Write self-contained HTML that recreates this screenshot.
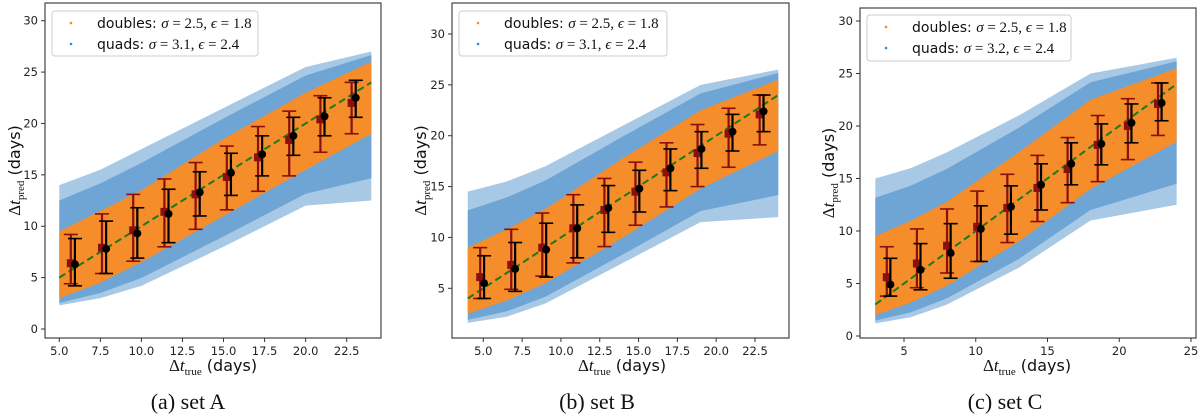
<!DOCTYPE html>
<html><head><meta charset="utf-8">
<style>
body{margin:0;background:#fff;width:1200px;height:416px;overflow:hidden}
svg{display:block}
text{font-family:"DejaVu Sans","Liberation Sans",sans-serif}
.cap{font-family:"Liberation Serif","DejaVu Serif",serif;font-size:22px}
</style></head>
<body>
<svg id="fig" width="1200" height="416"></svg>
<script>
// ---- data: set A ----
const aCatX = [5.7,7.6,9.5,11.4,13.3,15.2,17.1,19.0,20.9,22.8];
const aDblMean = [6.4,7.9,9.6,11.4,13.1,14.8,16.7,18.4,20.4,22.0];
const aDblLo = [4.4,5.4,6.6,8.0,9.7,11.6,13.4,14.9,17.2,19.0];
const aDblHi = [9.2,11.2,13.1,14.6,16.2,17.8,19.7,21.2,22.7,24.0];
const aQuadMean = [6.3,7.8,9.3,11.2,13.3,15.2,17.0,18.8,20.7,22.5];
const aQuadLo = [4.2,5.4,6.9,8.4,11.0,13.0,14.9,16.9,18.8,20.6];
const aQuadHi = [8.8,10.5,11.8,13.6,15.3,17.1,18.8,20.6,22.5,24.2];
const aBandX = [5,7.5,10,15,20,24];
const aBlueLo = [2.3,3.0,4.2,8.0,12.0,12.5];
const aBlueHi = [14.0,15.5,17.5,21.5,25.5,27.0];
const aOrgLo = [3.0,4.5,6.5,11.0,15.5,19.0];
const aOrgHi = [9.5,11.5,13.5,18.5,23.0,26.0];
const aXTicks = [5,7.5,10,12.5,15,17.5,20,22.5];
const aXTickLabels = ["5.0","7.5","10.0","12.5","15.0","17.5","20.0","22.5"];
const aYTicks = [0,5,10,15,20,25,30];
// ---- data: set B ----
const bCatX = [4.8,6.8,8.8,10.8,12.8,14.8,16.8,18.8,20.8,22.8];
const bDblMean = [6.1,7.3,9.0,10.9,12.7,14.5,16.4,18.3,20.2,22.1];
const bDblLo = [4.0,4.9,6.2,7.5,9.1,11.2,13.0,15.0,16.9,19.1];
const bDblHi = [9.0,10.8,12.4,14.2,15.8,17.4,19.3,21.1,22.7,24.0];
const bQuadMean = [5.5,6.9,8.8,10.9,12.9,14.8,16.8,18.7,20.4,22.4];
const bQuadLo = [4.0,4.7,6.1,8.0,10.5,12.5,14.6,16.8,18.5,20.4];
const bQuadHi = [8.2,9.5,11.4,13.2,15.1,16.6,18.7,20.4,22.1,24.0];
const bBandX = [4,6.5,9,14,19,24];
const bBlueLo = [1.6,2.2,3.5,7.5,11.5,12.0];
const bBlueHi = [14.5,15.5,17.0,21.0,25.0,26.5];
const bOrgLo = [2.5,3.8,5.5,10.0,14.8,18.5];
const bOrgHi = [9.0,10.8,12.8,17.8,22.5,25.5];
const bXTicks = [5,7.5,10,12.5,15,17.5,20,22.5];
const bXTickLabels = ["5.0","7.5","10.0","12.5","15.0","17.5","20.0","22.5"];
const bYTicks = [5,10,15,20,25,30];
// ---- data: set C ----
const cCatX = [3.8,5.9,8.0,10.1,12.2,14.3,16.4,18.5,20.6,22.7];
const cDblMean = [5.6,6.9,8.6,10.4,12.2,14.1,15.9,18.2,20.0,22.1];
const cDblLo = [3.8,4.6,6.0,7.1,8.9,10.9,12.7,14.7,16.8,19.1];
const cDblHi = [8.5,10.2,12.1,13.8,15.4,17.2,18.9,21.0,22.6,24.1];
const cQuadMean = [4.9,6.3,7.9,10.2,12.3,14.4,16.4,18.3,20.3,22.2];
const cQuadLo = [3.8,4.4,5.5,7.1,9.7,12.0,14.4,16.3,18.4,20.5];
const cQuadHi = [7.4,8.8,10.7,12.4,14.3,16.4,18.4,20.2,22.1,24.1];
const cBandX = [3,5.5,8,13,18,24];
const cBlueLo = [1.2,1.8,3.0,6.5,11.0,12.5];
const cBlueHi = [15.0,16.0,17.5,21.0,25.0,26.5];
const cOrgLo = [2.0,3.2,4.8,9.0,14.0,18.5];
const cOrgHi = [9.5,11.0,12.8,17.5,22.5,25.5];
const cXTicks = [5,10,15,20,25];
const cXTickLabels = ["5","10","15","20","25"];
const cYTicks = [0,5,10,15,20,25,30];

const NS = "http://www.w3.org/2000/svg";
const svg = document.getElementById('fig');
function mk(tag, attrs, parent, txt){
  const e = document.createElementNS(NS, tag);
  for (const k in attrs) e.setAttribute(k, attrs[k]);
  if (txt !== undefined) e.textContent = txt;
  (parent||svg).appendChild(e);
  return e;
}
const panels = [
 {key:'a', box:[45,3,381,338], x0:5,px0:59.3,x1:22.5,px1:346.7, y0:0,py0:329,y1:30,py1:20.7, xmin:5,
  catX:aCatX,dm:aDblMean,dl:aDblLo,dh:aDblHi,qm:aQuadMean,ql:aQuadLo,qh:aQuadHi,
  bx:aBandX,bl:aBlueLo,bh:aBlueHi,ol:aOrgLo,oh:aOrgHi,xt:aXTicks,xtl:aXTickLabels,yt:aYTicks,
  leg:[52,11,206,45], q:"3.1", ylab:14, xlab:213, cap:188, capT:"(a) set A"},
 {key:'b', box:[452,3,789,338], x0:5,px0:483.3,x1:22.5,px1:755, y0:5,py0:288.3,y1:30,py1:34, xmin:4,
  catX:bCatX,dm:bDblMean,dl:bDblLo,dh:bDblHi,qm:bQuadMean,ql:bQuadLo,qh:bQuadHi,
  bx:bBandX,bl:bBlueLo,bh:bBlueHi,ol:bOrgLo,oh:bOrgHi,xt:bXTicks,xtl:bXTickLabels,yt:bYTicks,
  leg:[459,11,208,45], q:"3.1", ylab:420, xlab:622, cap:597, capT:"(b) set B"},
 {key:'c', box:[860,8,1196,338], x0:5,px0:904,x1:25,px1:1191, y0:0,py0:336,y1:30,py1:21, xmin:3,
  catX:cCatX,dm:cDblMean,dl:cDblLo,dh:cDblHi,qm:cQuadMean,ql:cQuadLo,qh:cQuadHi,
  bx:cBandX,bl:cBlueLo,bh:cBlueHi,ol:cOrgLo,oh:cOrgHi,xt:cXTicks,xtl:cXTickLabels,yt:cYTicks,
  leg:[867,15,204,46], q:"3.2", ylab:828, xlab:1027, cap:1005, capT:"(c) set C"}
];
panels.forEach(p=>{
  const X = v => p.px0 + (v-p.x0)*(p.px1-p.px0)/(p.x1-p.x0);
  const Y = v => p.py0 + (v-p.y0)*(p.py1-p.py0)/(p.y1-p.y0);
  const g = mk('g',{});
  
  
  const [L,T,R,B] = p.box;
  const cid = 'clip'+p.key;
  const cp = mk('clipPath',{id:cid},g); mk('rect',{x:L,y:T,width:R-L,height:B-T},cp);
  const plot = mk('g',{'clip-path':'url(#'+cid+')'},g);
  function band(lo,hi,fill,op,name){
    let pts=[];
    p.bx.forEach((v,i)=>pts.push(X(v)+','+Y(hi[i])));
    for(let i=p.bx.length-1;i>=0;i--) pts.push(X(p.bx[i])+','+Y(lo[i]));
    const e = mk('polygon',{points:pts.join(' '),fill:fill,'fill-opacity':op},plot);
    
    
  }
  band(p.bl,p.bh,'#a8c9e6',1,'quads-scatter-cloud');
  band(p.bl.map((v,i)=>(v*2+p.ol[i])/3), p.bh.map((v,i)=>(v*2+p.oh[i])/3),'#6fa5d4',1,'quads-scatter-core');
  band(p.ol,p.oh,'#f48d2a',1,'doubles-scatter-cloud');
  const ln = mk('line',{x1:X(p.xmin),y1:Y(p.xmin),x2:X(24),y2:Y(24),stroke:'#1a7a1a','stroke-width':2,'stroke-dasharray':'7,4'},plot);
  
  
  function errs(xs,dx,m,lo,hi,col,sq,name){
    xs.forEach((xv,i)=>{
      const eg = mk('g',{},plot);
      
      
      const x = X(xv+dx);
      mk('line',{x1:x,x2:x,y1:Y(lo[i]),y2:Y(hi[i]),stroke:col,'stroke-width':2.2},eg);
      mk('line',{x1:x-7,x2:x+7,y1:Y(lo[i]),y2:Y(lo[i]),stroke:col,'stroke-width':1.6},eg);
      mk('line',{x1:x-7,x2:x+7,y1:Y(hi[i]),y2:Y(hi[i]),stroke:col,'stroke-width':1.6},eg);
      if(sq) mk('rect',{x:x-4,y:Y(m[i])-4,width:8,height:8,fill:col},eg);
      else mk('circle',{cx:x,cy:Y(m[i]),r:4,fill:col},eg);
    });
  }
  errs(p.catX,0,p.dm,p.dl,p.dh,'#8b0f0f',true,'doubles-errorbar');
  errs(p.catX,0.25,p.qm,p.ql,p.qh,'#000',false,'quads-errorbar');
  const fr = mk('rect',{x:L,y:T,width:R-L,height:B-T,fill:'none',stroke:'#444','stroke-width':1.2},g);
  
  
  p.xt.forEach((v,i)=>{
    const x=X(v);
    mk('line',{x1:x,x2:x,y1:B,y2:B+4,stroke:'#333'},g);
    const t=mk('text',{x:x,y:B+17,'font-size':11.5,'text-anchor':'middle',fill:'#222'},g,p.xtl[i]);
    
    
  });
  p.yt.forEach(v=>{
    const y=Y(v);
    mk('line',{x1:L-4,x2:L,y1:y,y2:y,stroke:'#333'},g);
    const t=mk('text',{x:L-7,y:y+4,'font-size':11.5,'text-anchor':'end',fill:'#222'},g,String(v));
    
    
  });
  const [lx,ly,lw,lh]=p.leg;
  const lg = mk('g',{},g);
  
  
  mk('rect',{x:lx,y:ly,width:lw,height:lh,rx:3,fill:'#fff','fill-opacity':0.85,stroke:'#ccc'},lg);
  mk('circle',{cx:lx+19,cy:ly+12,r:1.3,fill:'#f58b22'},lg);
  mk('circle',{cx:lx+19,cy:ly+33,r:1.3,fill:'#3a86c4'},lg);
  const t1=mk('text',{x:lx+45,y:ly+17,'font-size':14,fill:'#111'},lg);
  
  
  t1.innerHTML='doubles: <tspan font-family="Liberation Serif" font-style="italic" font-size="15">σ</tspan><tspan font-family="Liberation Serif" font-size="15"> = 2.5, </tspan><tspan font-family="Liberation Serif" font-style="italic" font-size="15">ϵ</tspan><tspan font-family="Liberation Serif" font-size="15"> = 1.8</tspan>';
  const t2=mk('text',{x:lx+45,y:ly+38,'font-size':14,fill:'#111'},lg);
  
  
  t2.innerHTML='quads: <tspan font-family="Liberation Serif" font-style="italic" font-size="15">σ</tspan><tspan font-family="Liberation Serif" font-size="15"> = '+p.q+', </tspan><tspan font-family="Liberation Serif" font-style="italic" font-size="15">ϵ</tspan><tspan font-family="Liberation Serif" font-size="15"> = 2.4</tspan>';
  const yl=mk('text',{x:0,y:0,'font-size':16,'text-anchor':'middle',fill:'#111',transform:'translate('+(p.ylab+6)+','+((T+B)/2)+') rotate(-90)'},g);
  
  
  yl.innerHTML='<tspan font-family="Liberation Serif" font-size="17">Δ</tspan><tspan font-family="Liberation Serif" font-style="italic" font-size="17">t</tspan><tspan font-family="Liberation Serif" font-size="11" dy="4">pred</tspan><tspan dy="-4"> (days)</tspan>';
  const xl=mk('text',{x:p.xlab,y:371,'font-size':16,'text-anchor':'middle',fill:'#111'},g);
  
  
  xl.innerHTML='<tspan font-family="Liberation Serif" font-size="17">Δ</tspan><tspan font-family="Liberation Serif" font-style="italic" font-size="17">t</tspan><tspan font-family="Liberation Serif" font-size="11" dy="4">true</tspan><tspan dy="-4"> (days)</tspan>';
  const cap=mk('text',{x:p.cap,y:409,'text-anchor':'middle',fill:'#111','class':'cap'},g,p.capT);
  
  
});
</script>
</body></html>
